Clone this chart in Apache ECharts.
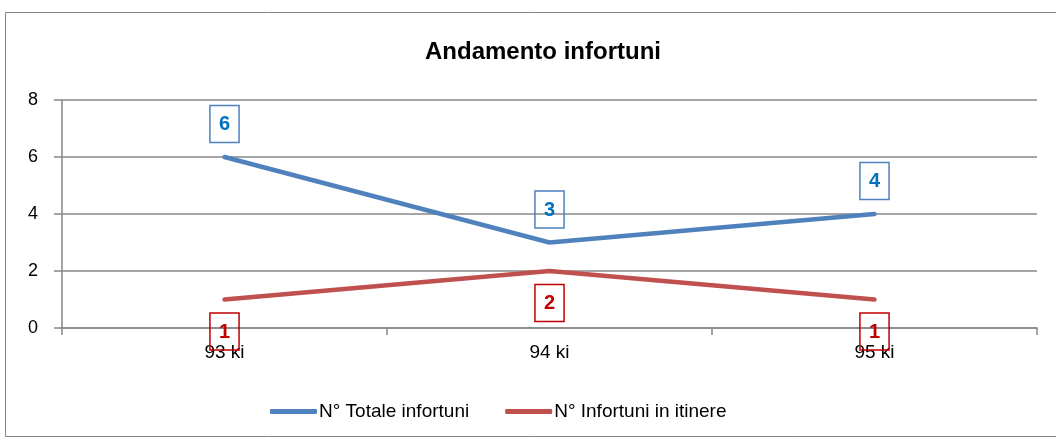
<!DOCTYPE html>
<html><head><meta charset="utf-8">
<script src="https://cdn.jsdelivr.net/npm/echarts@6/dist/echarts.min.js"></script>
<style>html,body{margin:0;padding:0;background:#fff}#c{width:1056px;height:445px}</style>
</head><body><div id="c"></div>
<script>
const categories = ['93 ki', '94 ki', '95 ki'];
const totale = [6, 3, 4];
const itinere = [1, 2, 1];
const yTicks = [0, 2, 4, 6, 8];
const seriesNames = ['N° Totale infortuni', 'N° Infortuni in itinere'];

const font = 'Liberation Sans';
const chart = echarts.init(document.getElementById('c'), null, {renderer: 'canvas'});
const valueLabel = (pos, dist, color, border) => ({
  show: true, position: pos, distance: dist, fontFamily: font, fontSize: 20, fontWeight: 'bold',
  lineHeight: 20, color: color, borderColor: border, borderWidth: 1.5, padding: [9, 9, 8, 9]
});
chart.setOption({
  animation: false,
  backgroundColor: '#fff',
  graphic: [{type: 'rect', shape: {x: 5.5, y: 12.5, width: 1060, height: 424}, style: {fill: 'none', stroke: '#868686', lineWidth: 1}, silent: true}],
  title: {text: 'Andamento infortuni', left: 538, top: 35, textAlign: 'center',
    textStyle: {fontFamily: font, fontSize: 24, fontWeight: 'bold', color: '#000'}},
  legend: {bottom: 19, left: 265, itemWidth: 47, itemHeight: 5, itemGap: 36,
    icon: 'roundRect',
    textStyle: {fontFamily: font, fontSize: 19, color: '#000', padding: [0, 0, 0, -3]},
    data: seriesNames},
  grid: {left: 62, right: 19, top: 100, bottom: 117},
  xAxis: {type: 'category', data: categories, boundaryGap: true,
    axisLine: {lineStyle: {color: '#878787', width: 1.5}},
    axisTick: {show: true, length: 7, lineStyle: {color: '#878787', width: 1.5}},
    axisLabel: {fontFamily: font, fontSize: 19, color: '#000', margin: 15}},
  yAxis: {type: 'value', min: yTicks[0], max: yTicks[yTicks.length - 1], interval: 2,
    axisLine: {show: true, lineStyle: {color: '#878787', width: 1.5}},
    axisTick: {show: true, length: 8, lineStyle: {color: '#878787', width: 1.5}},
    splitLine: {lineStyle: {color: '#878787', width: 1.5}},
    axisLabel: {fontFamily: font, fontSize: 18, color: '#000', margin: 24}},
  series: [
    {name: seriesNames[0], type: 'line', data: totale, symbol: 'circle', symbolSize: 1, showSymbol: true,
      lineStyle: {color: '#4F81BD', width: 4.5, cap: 'round'}, itemStyle: {color: '#4F81BD'},
      label: valueLabel('top', 14, '#0070C0', '#4F81BD')},
    {name: seriesNames[1], type: 'line', data: itinere, symbol: 'circle', symbolSize: 1, showSymbol: true,
      lineStyle: {color: '#C0504D', width: 4.5, cap: 'round'}, itemStyle: {color: '#C0504D'},
      label: valueLabel('bottom', 13, '#C00000', '#C00000')}
  ]
});
</script></body></html>
